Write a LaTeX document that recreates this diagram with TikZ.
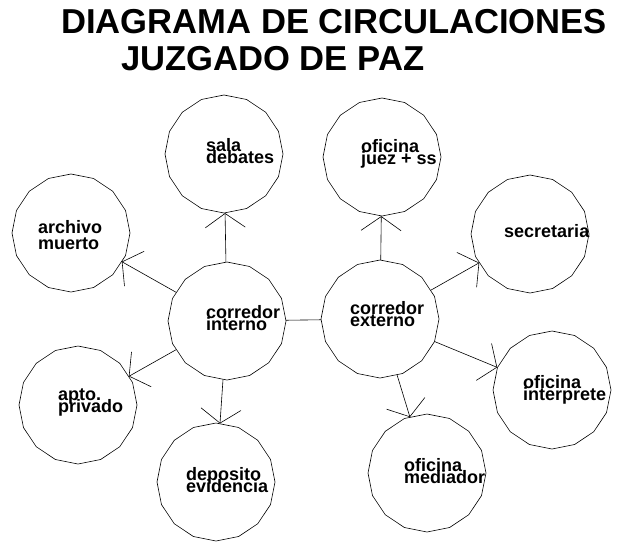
\documentclass[tikz,border=0pt]{standalone}
\usepackage{fontspec}
\setmainfont{Liberation Sans}
\usetikzlibrary{shapes.geometric,arrows.meta}
\newcommand{\lblfont}[1]{\fontsize{18}{#1}\selectfont\bfseries\lineskiplimit=-100pt\relax}
\tikzset{
  room/.style={draw, regular polygon, regular polygon sides=16, shape border rotate=11.25, minimum size=118pt, inner sep=0pt, line width=0.6pt},
  lbl/.style={anchor=base west, inner sep=0pt, align=left, font=\lblfont{12}},
  flow/.style={line width=0.6pt, -{Straight Barb[length=14pt,width=40pt,line width=0.6pt]}},
  link/.style={line width=0.6pt},
  ttl/.style={anchor=base west, inner sep=0pt, font=\fontsize{34.6}{36}\selectfont\bfseries}
}
\begin{document}
\begin{tikzpicture}[x=1pt,y=-1pt]
\useasboundingbox (0,0) rectangle (620,541);
\node[ttl] (title1) at (61,33) {DIAGRAMA DE CIRCULACIONES};
\node[ttl] (title2) at (121,70) {JUZGADO DE PAZ};

\node[room] (sala) at (224,154) {};
\node[room] (juez) at (382,157) {};
\node[room] (archivo) at (71,233) {};
\node[room] (interno) at (227,321) {};
\node[room] (externo) at (380,319) {};
\node[room] (secre) at (530,234) {};
\node[room] (apto) at (78,405) {};
\node[room] (deposito) at (216,482) {};
\node[room] (interp) at (552,390) {};
\node[room] (mediador) at (427,473) {};

\node[lbl] (tsala) at (206,163) {sala\\debates};
\node[lbl] (tjuez) at (361,164) {oficina\\juez + ss};
\node[lbl, font=\lblfont{16}] (tarchivo) at (38,249) {archivo\\muerto};
\node[lbl] (tinterno) at (206,330) {corredor\\interno};
\node[lbl] (texterno) at (350,326) {corredor\\externo};
\node[lbl] (tsecre) at (504,237) {secretaria};
\node[lbl] (tapto) at (58,412) {apto.\\privado};
\node[lbl] (tdeposito) at (186,492) {deposito\\evidencia};
\node[lbl] (tinterp) at (523,400) {oficina\\interprete};
\node[lbl] (tmediador) at (404,483) {oficina\\mediador};

\draw[flow] (interno) -- (sala);
\draw[flow] (interno) -- (archivo);
\draw[flow] (interno) -- (apto);
\draw[flow] (interno) -- (deposito);
\draw[link] (interno) -- (externo);
\draw[flow] (externo) -- (juez);
\draw[flow] (externo) -- (secre);
\draw[flow] (externo) -- (interp);
\draw[flow] (externo) -- (mediador);
\end{tikzpicture}
\end{document}
